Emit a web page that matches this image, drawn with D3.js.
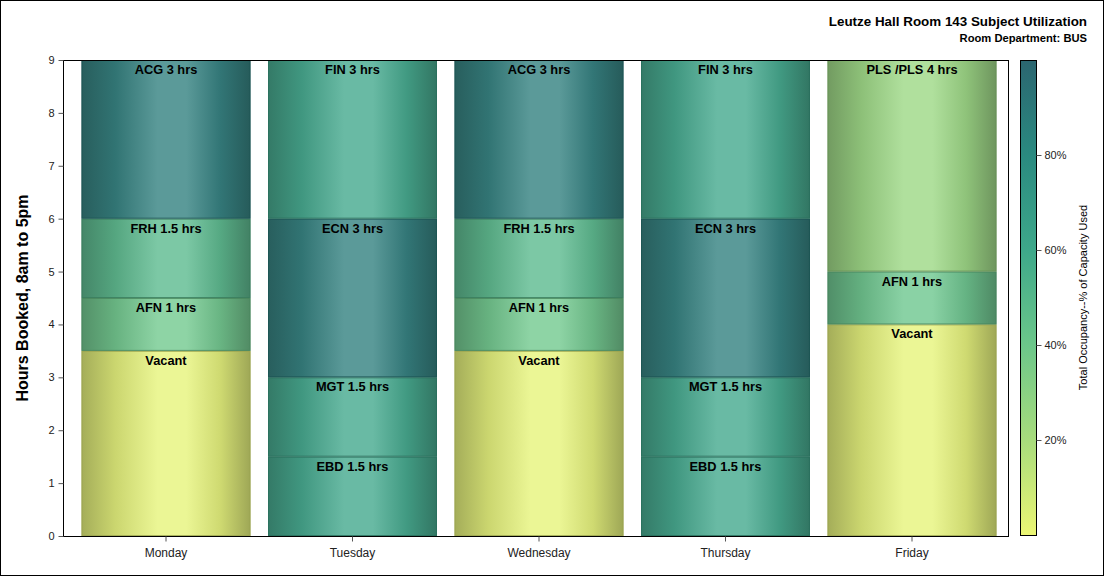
<!DOCTYPE html>
<html>
<head>
<meta charset="utf-8">
<script src="https://cdn.jsdelivr.net/npm/d3@7/dist/d3.min.js"></script>
<style>
  html, body { margin: 0; padding: 0; background: #fff; }
  svg { display: block; font-family: "Liberation Sans", Arial, sans-serif; }
</style>
</head>
<body>
<svg id="chart" width="1104" height="576"></svg>
<script>
// ---- Data ----
const days = ["Monday", "Tuesday", "Wednesday", "Thursday", "Friday"];
// segments listed bottom to top for each day
const segDay = ["Monday","Monday","Monday","Monday",
                "Tuesday","Tuesday","Tuesday","Tuesday",
                "Wednesday","Wednesday","Wednesday","Wednesday",
                "Thursday","Thursday","Thursday","Thursday",
                "Friday","Friday","Friday"];
const segLabel = ["Vacant","AFN 1 hrs","FRH 1.5 hrs","ACG 3 hrs",
                  "EBD 1.5 hrs","MGT 1.5 hrs","ECN 3 hrs","FIN 3 hrs",
                  "Vacant","AFN 1 hrs","FRH 1.5 hrs","ACG 3 hrs",
                  "EBD 1.5 hrs","MGT 1.5 hrs","ECN 3 hrs","FIN 3 hrs",
                  "Vacant","AFN 1 hrs","PLS /PLS 4 hrs"];
const segHours = [3.5, 1, 1.5, 3,
                  1.5, 1.5, 3, 3,
                  3.5, 1, 1.5, 3,
                  1.5, 1.5, 3, 3,
                  4, 1, 4];
const segOccupancy = [2, 40, 50, 88,
                      62, 62, 88, 62,
                      2, 40, 50, 88,
                      62, 62, 88, 62,
                      2, 42, 25];
const yTicks = [0,1,2,3,4,5,6,7,8,9];
const colorTicks = [20, 40, 60, 80];
const colorStops = [0, 20, 40, 60, 80, 100];
const colorRange = ["#ecf674", "#a8dc7c", "#6cc78a", "#3ea88a", "#2a8a80", "#2b6670"];

const titleText = "Leutze Hall Room 143 Subject Utilization";
const subtitleText = "Room Department: BUS";
const yTitle = "Hours Booked, 8am to 5pm";
const cTitle = "Total Occupancy--% of Capacity Used";

// ---- Layout ----
const svg = d3.select("#chart");
const W = 1104, H = 576;
const plot = {left: 63, right: 1008, top: 60, bottom: 536};

svg.append("rect").attr("x", 0.5).attr("y", 0.5).attr("width", W - 1).attr("height", H - 1)
  .attr("fill", "#fff").attr("stroke", "#000");

const x = d3.scaleBand().domain(days).range([72.75, 1005.25]).paddingInner(0.094).paddingOuter(0.047);
const y = d3.scaleLinear().domain([0, 9]).range([plot.bottom, plot.top]);
const color = d3.scaleLinear().domain(colorStops).range(colorRange).interpolate(d3.interpolateRgb);

// stack segments
const segs = [];
const acc = {};
segDay.forEach((d, i) => {
  const y0 = acc[d] || 0;
  const y1 = y0 + segHours[i];
  acc[d] = y1;
  segs.push({day: d, label: segLabel[i], y0, y1, occ: segOccupancy[i], id: i});
});

const defs = svg.append("defs");
segs.forEach(s => {
  const base = d3.rgb(color(s.occ));
  const gray = d3.interpolateRgb(base, "#888")(0.12);
  const light = d3.interpolateRgb(base, "#fff")(0.23);
  const dark = d3.rgb(gray).darker(0.8).formatHex();
  const mid = d3.rgb(gray).darker(0.2).formatHex();
  const g = defs.append("linearGradient").attr("id", "g" + s.id)
    .attr("x1", "0%").attr("x2", "100%").attr("y1", "0%").attr("y2", "0%");
  g.append("stop").attr("offset", "0%").attr("stop-color", dark);
  g.append("stop").attr("offset", "20%").attr("stop-color", mid);
  g.append("stop").attr("offset", "45%").attr("stop-color", light);
  g.append("stop").attr("offset", "62%").attr("stop-color", light);
  g.append("stop").attr("offset", "82%").attr("stop-color", d3.rgb(gray).darker(0.15).formatHex());
  g.append("stop").attr("offset", "100%").attr("stop-color", d3.rgb(gray).darker(0.9).formatHex());
});

const gBars = svg.append("g");
gBars.selectAll("rect.seg").data(segs).join("rect")
  .attr("class", "seg")
  .attr("x", d => x(d.day))
  .attr("width", x.bandwidth())
  .attr("y", d => y(d.y1))
  .attr("height", d => y(d.y0) - y(d.y1))
  .attr("fill", d => `url(#g${d.id})`);

// segment outlines
gBars.selectAll("rect.outline").data(segs).join("rect")
  .attr("class", "outline")
  .attr("x", d => x(d.day) + 0.5)
  .attr("width", x.bandwidth() - 1)
  .attr("y", d => y(d.y1) + 0.5)
  .attr("height", d => y(d.y0) - y(d.y1) - 1)
  .attr("fill", "none")
  .attr("stroke", d => d3.rgb(color(d.occ)).darker(1.1).formatHex())
  .attr("stroke-opacity", 0.8)
  .attr("stroke-width", 1);

// labels
gBars.selectAll("text").data(segs).join("text")
  .attr("x", d => x(d.day) + x.bandwidth() / 2)
  .attr("y", d => y(d.y1) + 14)
  .attr("text-anchor", "middle")
  .attr("font-size", 12.8).attr("font-weight", "bold").attr("fill", "#000")
  .text(d => d.label);

// plot frame
svg.append("rect").attr("x", plot.left + 0.5).attr("y", plot.top + 0.5)
  .attr("width", plot.right - plot.left).attr("height", plot.bottom - plot.top)
  .attr("fill", "none").attr("stroke", "#000");

// y axis
const yAxis = svg.append("g").attr("transform", `translate(${plot.left + 0.5},0)`)
  .call(d3.axisLeft(y).tickValues(yTicks).tickSize(5).tickPadding(4).tickFormat(d3.format("d")));
yAxis.select(".domain").remove();
yAxis.selectAll("line").attr("stroke", "#555");
yAxis.selectAll("text").attr("font-size", 11).attr("fill", "#222").attr("font-family", "Liberation Sans, Arial, sans-serif");

// x axis
const xAxis = svg.append("g").attr("transform", `translate(0,${plot.bottom + 0.5})`)
  .call(d3.axisBottom(x).tickSize(5).tickPadding(7));
xAxis.select(".domain").remove();
xAxis.selectAll("line").attr("stroke", "#555");
xAxis.selectAll("text").attr("font-size", 12).attr("fill", "#222").attr("font-family", "Liberation Sans, Arial, sans-serif");

// y title
svg.append("text")
  .attr("transform", `translate(28,${(plot.top + plot.bottom) / 2}) rotate(-90)`)
  .attr("text-anchor", "middle").attr("font-size", 16).attr("font-weight", "bold").attr("fill", "#000")
  .text(yTitle);

// titles
svg.append("text").attr("x", 1087).attr("y", 26).attr("text-anchor", "end")
  .attr("font-size", 13.4).attr("font-weight", "bold").text(titleText);
svg.append("text").attr("x", 1087).attr("y", 42).attr("text-anchor", "end")
  .attr("font-size", 11.2).attr("font-weight", "bold").text(subtitleText);

// color bar
const cb = {x: 1020, w: 16, top: 60, bottom: 535};
const cy = d3.scaleLinear().domain([0, 100]).range([cb.bottom, cb.top]);
const cg = defs.append("linearGradient").attr("id", "cbar")
  .attr("x1", "0%").attr("x2", "0%").attr("y1", "100%").attr("y2", "0%");
colorStops.forEach((v, i) => {
  cg.append("stop").attr("offset", (v) + "%").attr("stop-color", colorRange[i]);
});
svg.append("rect").attr("x", cb.x + 0.5).attr("y", cb.top + 0.5)
  .attr("width", cb.w).attr("height", cb.bottom - cb.top)
  .attr("fill", "url(#cbar)").attr("stroke", "#000");
const cAxis = svg.append("g").attr("transform", `translate(${cb.x + cb.w + 0.5},0)`)
  .call(d3.axisRight(cy).tickValues(colorTicks).tickSize(5).tickPadding(3).tickFormat(d => d + "%"));
cAxis.select(".domain").remove();
cAxis.selectAll("line").attr("stroke", "#555");
cAxis.selectAll("text").attr("font-size", 11).attr("fill", "#222").attr("font-family", "Liberation Sans, Arial, sans-serif");

svg.append("text")
  .attr("transform", `translate(1087,${(cb.top + cb.bottom) / 2}) rotate(-90)`)
  .attr("text-anchor", "middle").attr("font-size", 11).attr("fill", "#000")
  .text(cTitle);
</script>
</body>
</html>
